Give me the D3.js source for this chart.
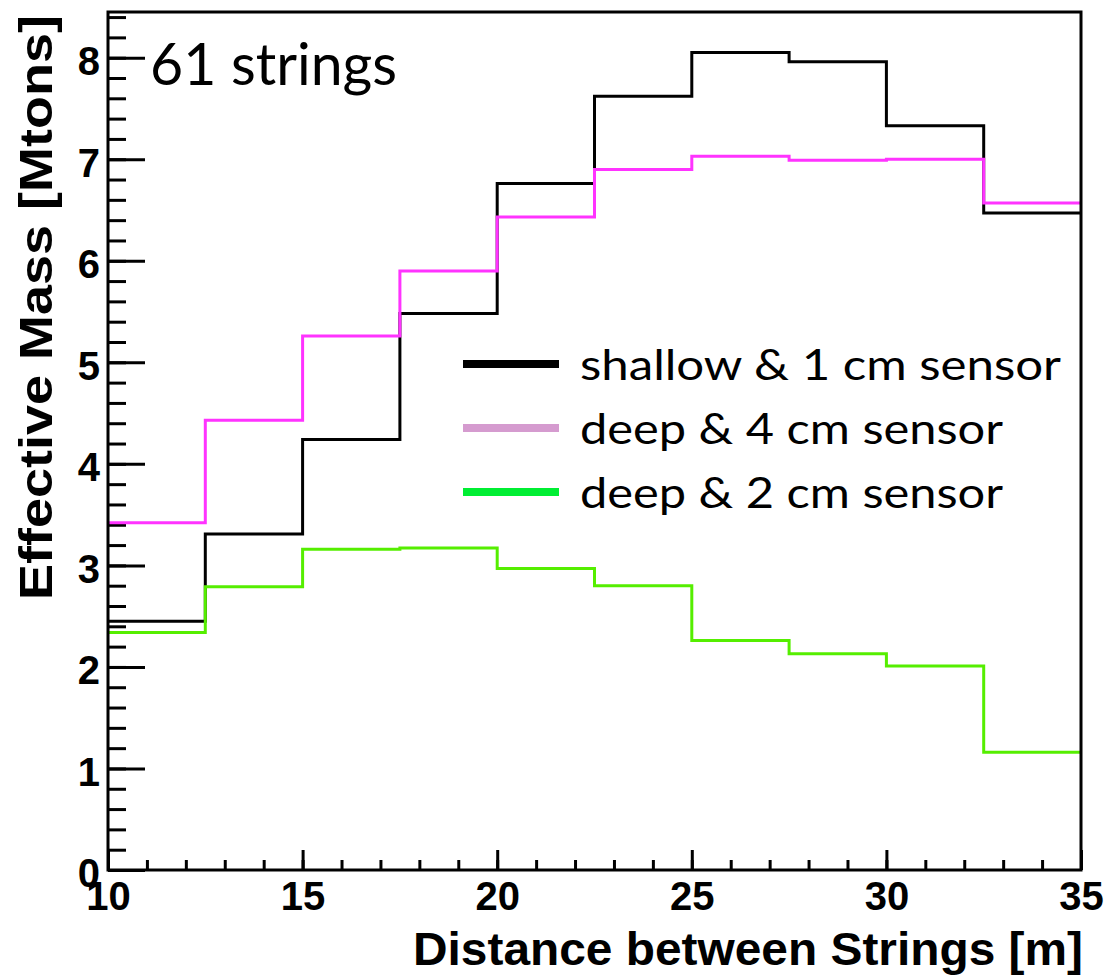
<!DOCTYPE html>
<html>
<head>
<meta charset="utf-8">
<script src="https://cdn.jsdelivr.net/npm/d3@7"></script>
<style>
  body { margin: 0; background: #fff; }
  .tick text { font-family: "Liberation Sans", Arial, sans-serif; font-weight: bold; font-size: 40px; fill: #000; }
</style>
</head>
<body>
<div id="chart"></div>
<script>
var width = 1104, height = 975;

// bin edges of the histograms (Distance between strings, m)
var binEdges = [10, 12.5, 15, 17.5, 20, 22.5, 25, 27.5, 30, 32.5, 35];
// effective mass per bin [Mtons]
var shallow1cm = [2.45, 3.31, 4.24, 5.48, 6.76, 7.62, 8.05, 7.96, 7.33, 6.47];
var deep4cm = [3.42, 4.43, 5.26, 5.90, 6.43, 6.90, 7.03, 6.99, 7.00, 6.57];
var deep2cm = [2.34, 2.79, 3.16, 3.17, 2.97, 2.80, 2.26, 2.13, 2.01, 1.16];

var xTicks = [10, 15, 20, 25, 30, 35];
var yTicks = [0, 1, 2, 3, 4, 5, 6, 7, 8];
var legendLabels = ["shallow & 1 cm sensor", "deep & 4 cm sensor", "deep & 2 cm sensor"];

var svg = d3.select("#chart").append("svg").attr("width", width).attr("height", height);

// plot frame (note: "top" is reserved on window, so use other names)
var plotL = 108, plotR = 1081, plotT = 12, plotB = 870;

var x = d3.scaleLinear().domain([10, 35]).range([plotL, plotR]);
var y = d3.scaleLinear().domain([0, 8.45]).range([plotB, plotT]);

// minor ticks
svg.append("g")
    .attr("transform", "translate(" + plotL + ",0)")
    .call(d3.axisLeft(y).tickValues(d3.range(0, 8.41, 0.2)).tickSize(-18).tickFormat(""))
    .call(function(g) { g.select(".domain").remove(); g.selectAll("line").attr("stroke-width", 3); });
svg.append("g")
    .attr("transform", "translate(0," + plotB + ")")
    .call(d3.axisBottom(x).tickValues(d3.range(10, 35.01, 1)).tickSize(-10).tickFormat(""))
    .call(function(g) { g.select(".domain").remove(); g.selectAll("line").attr("stroke-width", 3); });

// major ticks + labels
svg.append("g")
    .attr("transform", "translate(" + plotL + ",0)")
    .call(d3.axisLeft(y).tickValues(yTicks).tickSize(-37).tickPadding(8).tickFormat(d3.format("d")))
    .call(function(g) {
      g.select(".domain").remove();
      g.selectAll("line").attr("stroke-width", 3);
      g.selectAll("text").attr("dy", "0.42em");
    });
svg.append("g")
    .attr("transform", "translate(0," + plotB + ")")
    .call(d3.axisBottom(x).tickValues(xTicks).tickSize(-20).tickPadding(12).tickFormat(d3.format("d")))
    .call(function(g) {
      g.select(".domain").remove();
      g.selectAll("line").attr("stroke-width", 3);
    });

// histograms as step lines
var line = d3.line()
    .x(function(d) { return x(d[0]); })
    .y(function(d) { return y(d[1]); })
    .curve(d3.curveStepAfter);

function steps(vals) {
  return binEdges.map(function(e, i) { return [e, vals[Math.min(i, vals.length - 1)]]; });
}

var series = [
  { vals: shallow1cm, color: "#000000" },
  { vals: deep4cm, color: "#ff33ff" },
  { vals: deep2cm, color: "#55ee00" }
];

series.forEach(function(s) {
  svg.append("path")
      .attr("d", line(steps(s.vals)))
      .attr("fill", "none")
      .attr("stroke", s.color)
      .attr("stroke-width", 3)
      .attr("stroke-linejoin", "miter");
});

// frame
svg.append("rect")
    .attr("x", plotL).attr("y", plotT)
    .attr("width", plotR - plotL).attr("height", plotB - plotT)
    .attr("fill", "none").attr("stroke", "#000").attr("stroke-width", 3);

// axis titles
svg.append("text")
    .attr("x", 413).attr("y", 965)
    .attr("font-family", "Liberation Sans, Arial, sans-serif")
    .attr("font-weight", "bold").attr("font-size", 46)
    .attr("textLength", 670).attr("lengthAdjust", "spacingAndGlyphs")
    .text("Distance between Strings [m]");

svg.append("text")
    .attr("transform", "translate(52,600) rotate(-90)")
    .attr("font-family", "Liberation Sans, Arial, sans-serif")
    .attr("font-weight", "bold").attr("font-size", 46)
    .attr("textLength", 585).attr("lengthAdjust", "spacingAndGlyphs")
    .text("Effective Mass [Mtons]");

// annotation
svg.append("text")
    .attr("x", 150).attr("y", 85)
    .attr("font-family", "Lato, 'Noto Sans', sans-serif")
    .attr("font-size", 58)
    .attr("textLength", 247).attr("lengthAdjust", "spacingAndGlyphs")
    .text("61 strings");

// legend
var legendColors = ["#000000", "#d59bcf", "#00ee33"];
var legendLen = [481, 423, 423];
var legend = svg.selectAll(".legend")
    .data(legendLabels)
    .enter().append("g")
    .attr("class", "legend")
    .attr("transform", function(d, i) { return "translate(0," + (364 + i * 64) + ")"; });

legend.append("line")
    .attr("x1", 463).attr("x2", 559)
    .attr("stroke", function(d, i) { return legendColors[i]; })
    .attr("stroke-width", 8);

legend.append("text")
    .attr("x", 580).attr("y", 16)
    .attr("font-family", "Lato, 'Noto Sans', sans-serif")
    .attr("font-size", 42)
    .attr("textLength", function(d, i) { return legendLen[i]; })
    .attr("lengthAdjust", "spacingAndGlyphs")
    .text(function(d) { return d; });
</script>
</body>
</html>
